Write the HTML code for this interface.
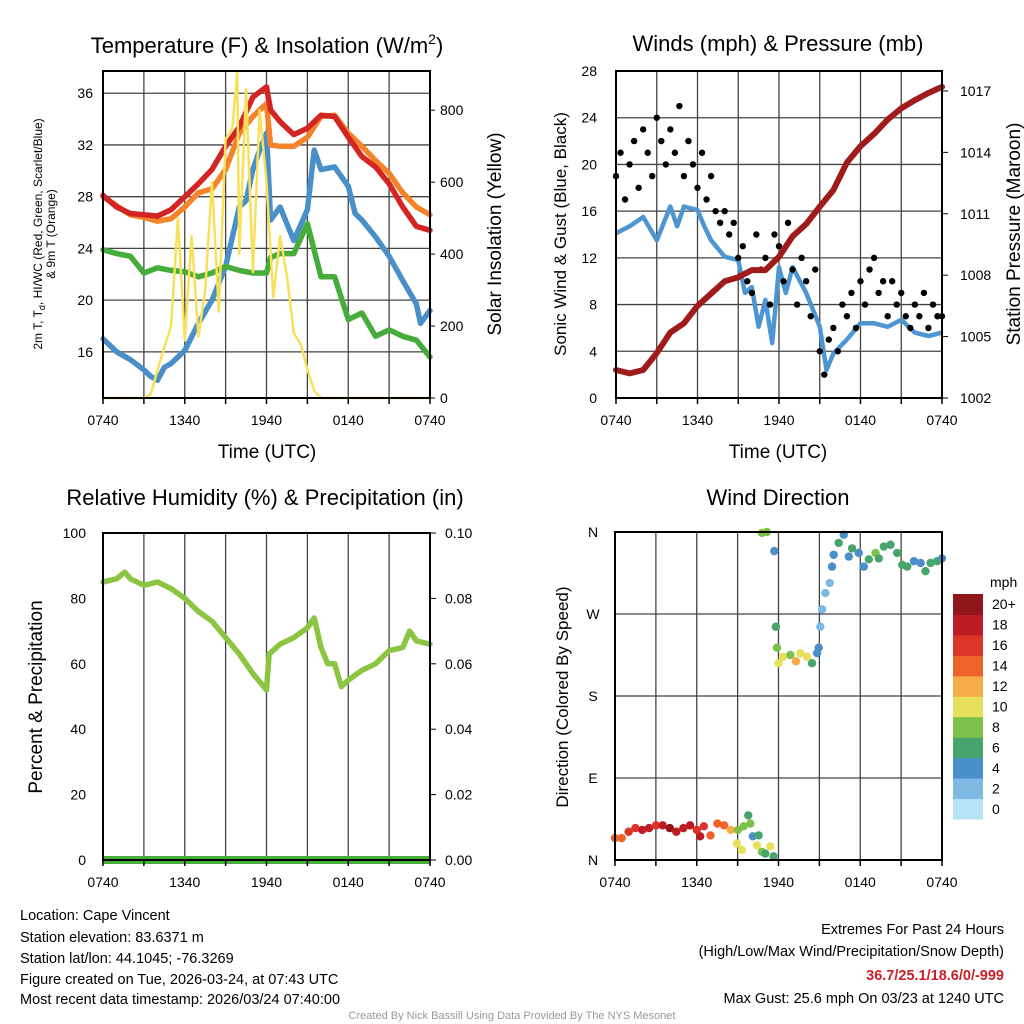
<!DOCTYPE html>
<html><head><meta charset="utf-8"><style>
html,body{margin:0;padding:0;background:#fff;}
svg{display:block;font-family:"Liberation Sans",sans-serif;}
</style></head><body>
<svg id="c" width="1024" height="1024" viewBox="0 0 1024 1024" xmlns="http://www.w3.org/2000/svg">
<rect width="1024" height="1024" fill="#fff"/>
<g id="g"></g>
<g font-size="14.5" fill="#000">
<text x="20" y="920">Location: Cape Vincent</text>
<text x="20" y="942">Station elevation: 83.6371 m</text>
<text x="20" y="963">Station lat/lon: 44.1045; -76.3269</text>
<text x="20" y="984">Figure created on Tue, 2026-03-24, at 07:43 UTC</text>
<text x="20" y="1004">Most recent data timestamp: 2026/03/24 07:40:00</text>
<text x="1004" y="934" text-anchor="end">Extremes For Past 24 Hours</text>
<text x="1004" y="956" text-anchor="end">(High/Low/Max Wind/Precipitation/Snow Depth)</text>
<text x="1004" y="980" text-anchor="end" font-weight="bold" fill="#c8202a">36.7/25.1/18.6/0/-999</text>
<text x="1004" y="1003" text-anchor="end">Max Gust: 25.6 mph On 03/23 at 1240 UTC</text>
<text x="512" y="1019" text-anchor="middle" font-size="11" fill="#999">Created By Nick Bassill Using Data Provided By The NYS Mesonet</text>
</g>
</svg>
<script>
// ---- data ----
const xTickLabels = ["0740","1340","1940","0140","0740"];
const hours = [0,1,2,3,4,5,6,7,8,9,10,11,12,12.3,13,14,15,16,17,18,19,20,21,22,23,24];
const tempRed = [28.1,27.2,26.7,26.6,26.5,27,28,29,30.1,31.9,33.4,35.7,36.5,34.7,33.8,32.8,33.3,34.3,34.2,32.6,31.1,30.3,29,27.2,25.7,25.4];
const tempOrange = [28,27.3,26.6,26.4,26.1,26.3,27.2,28.3,28.6,30.1,32.9,34.2,35.2,32,31.9,31.9,32.6,34.2,34.3,32.9,31.9,30.8,29.8,28.3,27.2,26.6];
const tempGreen = [23.9,23.6,23.4,22.1,22.5,22.3,22.2,21.8,22.1,22.6,22.3,22.1,22.1,23.3,23.6,23.6,25.9,21.8,21.8,18.5,19,17.2,17.7,17.2,16.9,15.6];
const blueHours = [0,1,2,3,3.5,4,4.5,5,6,7,8,9,10,10.5,11,11.5,12,12.3,13,14,15,15.5,16,17,18,18.5,19,20,21,22,23,23.3,24];
const tempBlue = [17,16,15.4,14.6,14.1,13.8,14.8,15.1,16.1,18.2,20,22.6,27.2,27.7,30.1,31.6,32.9,26.2,27.2,24.6,27,31.6,30.1,30.3,28.8,26.7,26.2,24.9,23.4,21.5,19.7,18.2,19.2];
const solarHours = [0,0.5,1,1.5,2,2.5,3,3.5,4,4.5,5,5.5,6,6.5,7,7.5,8,8.5,9,9.5,9.85,10,10.5,11,11.5,12,12.5,13,13.5,14,14.5,15,15.5,16,17,18,19,20,21,22,23,24];
const solar = [0,0,0,0,0,0,0,10,78,140,200,500,160,450,170,300,600,240,720,750,905,400,858,350,800,600,280,450,340,180,150,80,20,0,0,0,0,0,0,0,0,0];
const tempTicks = [16,20,24,28,32,36];
const solarTicks = [0,200,400,600,800];

const windHours = [0,1,2,3,4,4.5,5,6,6.5,7,8,9,9.5,10,10.5,11,11.5,12,12.5,13,14,15,15.5,16,17,18,19,20,21,22,23,24];
const windSpeed = [14.1,14.7,15.5,13.5,16.4,14.7,16.4,16.1,14.7,13.5,12.1,11.8,9,9.5,6.1,8.4,4.7,11.2,9,11.2,9,6.1,2.4,3.8,5,6.4,6.4,6.1,6.7,5.6,5.3,5.6];
const gusts = [19,21,17,20,22,18,23,21,19,24,22,20,23,21,25,19,22,20,18,21,17,19,16,15,16,14,15,12,13,10,9,14,11,12,8,14,13,10,15,11,8,12,10,7,11,4,2,5,6,4,8,7,9,6,10,8,11,12,9,10,7,10,8,9,7,6,8,7,9,6,8,7,7];
const presHours = [0,1,2,3,4,5,6,7,8,9,10,11,12,13,14,15,16,17,18,19,20,21,22,23,24];
const pressure = [1003.37,1003.2,1003.37,1004.2,1005.2,1005.65,1006.5,1007.1,1007.7,1007.9,1008.25,1008.25,1008.9,1009.9,1010.5,1011.35,1012.15,1013.5,1014.3,1014.9,1015.6,1016.15,1016.55,1016.9,1017.2];
const windTicks = [0,4,8,12,16,20,24,28];
const presTicks = [1002,1005,1008,1011,1014,1017];

const rhHours = [0,1,1.6,2,3,4,5,6,7,8,9,10,11,12,12.2,13,14,15,15.5,16,16.5,17,17.5,18,19,20,21,22,22.5,23,24];
const rh = [85,86,88,86,84,85,83,80,76,73,68,63,57,52,63,66,68,71,74,65,60,60,53,55,58,60,64,65,70,67,66];
const rhTicks = [0,20,40,60,80,100];
const precipTicks = ["0.00","0.02","0.04","0.06","0.08","0.10"];

const dirHours = [0,0.49,1,1.5,2,2.5,3.01,3.5,4.02,4.5,5.02,5.51,6,6.25,6.52,7.01,7.52,8.01,8.5,8.95,9.02,9.31,9.44,9.78,9.93,10.12,10.42,10.54,10.78,11.03,11.4,11.64,10.78,11.15,11.69,11.81,11.89,12,12.33,12.87,13.28,13.6,14.09,14.46,14.83,14.95,15.07,15.2,15.44,15.76,15.93,16.05,16.42,16.79,17.16,17.4,17.89,18.26,18.63,19.12,19.36,19.73,20.22,20.71,21.08,21.45,21.94,22.43,22.79,23.16,23.65,24];
const dirDeg = [24,24,31,35,33,35,38,38,35,31,35,38,33,26,37,27,40,38,33,18,33,11,37,49,40,26,16,27,9,7,15,4,359,360,339,256,233,216,223,225,218,227,223,216,227,233,256,275,293,304,322,335,348,357,333,342,337,322,330,337,331,344,346,337,324,322,328,326,317,326,328,331];
const dirSpeed = [14,14,15,16,17,17,16,17,19,18,17,17,16,17,15,14,13,13,12,10,8,9,7,6,8,4,9,6,8,6,10,5,8,8,4,6,8,10,10,7,12,10,10,6,4,4,2,2,2,2,4,4,6,4,4,6,4,4,6,8,6,6,6,6,6,6,4,4,6,6,6,4];
const dirTickLabels = ["N","E","S","W","N"];
const cbLabels = ["0","2","4","6","8","10","12","14","16","18","20+"];
const cbColors = ["#b5e2f7","#7db9e3","#4a8fc8","#47a56c","#7cc149","#e6e05a","#f6ac46","#ef6229","#dd342a","#bd1c25","#911619"];

// ---- helpers ----
const NS="http://www.w3.org/2000/svg";
const G=document.getElementById('g');
function el(tag,attrs,parent){const e=document.createElementNS(NS,tag);for(const k in attrs)e.setAttribute(k,attrs[k]);(parent||G).appendChild(e);return e;}
function txt(x,y,s,size,anchor,parent,rot){const t=el('text',{x:x,y:y,'font-size':size,'text-anchor':anchor||'middle',fill:'#000'},parent);if(rot)t.setAttribute('transform','rotate(-90 '+x+' '+y+')');t.textContent=s;return t;}
function path(xs,ys,fx,fy){let d='';for(let i=0;i<xs.length;i++){d+=(i?'L':'M')+fx(xs[i]).toFixed(1)+','+fy(ys[i]).toFixed(1);}return d;}

function panel(L,T,R,B,name){
  const g=el('g',{});
  
  
  const fx=h=>L+(R-L)*h/24;
  return {g,fx,L,T,R,B};
}
function frame(p,hLines){
  const {g,fx,L,T,R,B}=p;
  for(let i=1;i<8;i++){const l=el('line',{x1:fx(i*3),x2:fx(i*3),y1:T,y2:B,stroke:'#444','stroke-width':1.3},g);
    
    }
  hLines.forEach(y=>{const l=el('line',{x1:L,x2:R,y1:y,y2:y,stroke:'#444','stroke-width':1.3},g);
    
    });
}
function border(p){
  const r=el('rect',{x:p.L,y:p.T,width:p.R-p.L,height:p.B-p.T,fill:'none',stroke:'#000','stroke-width':2},p.g);
  
  
  for(let i=0;i<=8;i++){const l=el('line',{x1:p.fx(i*3),x2:p.fx(i*3),y1:p.B,y2:p.B+6,stroke:'#000','stroke-width':1.5},p.g);
    
    }
  xTickLabels.forEach((s,i)=>{const t=txt(p.fx(i*6),p.B+27,s,14,'middle',p.g);
    
    });
}

// ===== Panel 1: temperature =====
{
const p=panel(103,71,430,398,'temperature-panel');
const fy=v=>p.B-(v-12.43)*(p.B-p.T)/(37.72-12.43);
const fs=v=>p.B-v*(p.B-p.T)/909;
frame(p,tempTicks.map(fy));
const series=[[blueHours,tempBlue,'#4a90c8','temp-blue-line'],[hours,tempGreen,'#46ac3c','temp-green-line'],[hours,tempOrange,'#f5832a','temp-orange-line'],[hours,tempRed,'#d42525','temp-red-line']];
series.forEach(s=>{const e=el('path',{d:path(s[0],s[1],p.fx,fy),fill:'none',stroke:s[2],'stroke-width':5.5,'stroke-linejoin':'round','stroke-linecap':'round'},p.g);
  
  });
const sl=el('path',{d:path(solarHours,solar,p.fx,fs),fill:'none',stroke:'#f8e15a','stroke-width':2.5,'stroke-linejoin':'round'},p.g);


border(p);
tempTicks.forEach(v=>{const t=txt(p.L-10,fy(v)+5,String(v),14,'end',p.g);
  
  });
solarTicks.forEach(v=>{const t=txt(p.R+10,fs(v)+5,String(v),14,'start',p.g);
  
  
  const l=el('line',{x1:p.R,x2:p.R+5,y1:fs(v),y2:fs(v),stroke:'#000'},p.g);
  
  });
const tt=el('text',{x:267,y:53,'font-size':22,'text-anchor':'middle'},p.g);


tt.innerHTML='Temperature (F) &amp; Insolation (W/m<tspan dy="-9" font-size="14">2</tspan><tspan dy="9">)</tspan>';
const y1=el('text',{x:42,y:234,'font-size':12,'text-anchor':'middle',transform:'rotate(-90 42 234)'},p.g);


y1.innerHTML='2m T, T<tspan dy="3" font-size="9">d</tspan><tspan dy="-3">, HI/WC (Red, Green, Scarlet/Blue)</tspan>';
const y2=txt(55,234,'& 9m T (Orange)',12,'middle',p.g,true);


const y3=txt(501,234,'Solar Insolation (Yellow)',19,'middle',p.g,true);


const xt=txt(267,458,'Time (UTC)',19,'middle',p.g);


}

// ===== Panel 2: winds =====
{
const p=panel(616,71,942,398,'winds-panel');
const fy=v=>p.B-v*(p.B-p.T)/28;
const fp=v=>p.B-(v-1002)*20.47;
frame(p,windTicks.slice(1,7).map(fy));
const w=el('path',{d:path(windHours,windSpeed,p.fx,fy),fill:'none',stroke:'#4d96d2','stroke-width':4.5,'stroke-linejoin':'round'},p.g);


gusts.forEach((v,i)=>{const c=el('circle',{cx:p.fx(i/3),cy:fy(v),r:3.2,fill:'#000'},p.g);
  
  });
const pr=el('path',{d:path(presHours,pressure,p.fx,fp),fill:'none',stroke:'#a01c1c','stroke-width':6,'stroke-linejoin':'round','stroke-linecap':'round'},p.g);


border(p);
windTicks.forEach(v=>{const t=txt(p.L-19,fy(v)+5,String(v),14,'end',p.g);
  
  });
presTicks.forEach(v=>{const t=txt(p.R+18,fp(v)+5,String(v),14,'start',p.g);
  
  
  const l=el('line',{x1:p.R,x2:p.R+6,y1:fp(v),y2:fp(v),stroke:'#000'},p.g);
  
  });
const t1=txt(778,51,'Winds (mph) & Pressure (mb)',22,'middle',p.g);


const t2=txt(566,234,'Sonic Wind & Gust (Blue, Black)',17,'middle',p.g,true);


const t3=txt(1020,234,'Station Pressure (Maroon)',19,'middle',p.g,true);


const xt=txt(778,458,'Time (UTC)',19,'middle',p.g);


}

// ===== Panel 3: RH =====
{
const p=panel(103,533,430,860,'humidity-panel');
const fy=v=>p.B-v*(p.B-p.T)/100;
frame(p,[]);
const z=el('line',{x1:p.L,x2:p.R,y1:p.B,y2:p.B,stroke:'#46ac3c','stroke-width':8},p.g);


const r=el('path',{d:path(rhHours,rh,p.fx,fy),fill:'none',stroke:'#8cc541','stroke-width':5.5,'stroke-linejoin':'round','stroke-linecap':'round'},p.g);


border(p);
rhTicks.forEach(v=>{const t=txt(p.L-17,fy(v)+5,String(v),14,'end',p.g);
  
  });
precipTicks.forEach((s,i)=>{const y=fy(i*20);const t=txt(p.R+15,y+5,s,14,'start',p.g);
  
  
  const l=el('line',{x1:p.R,x2:p.R+6,y1:y,y2:y,stroke:'#000'},p.g);
  
  });
const t1=txt(265,505,'Relative Humidity (%) & Precipitation (in)',22,'middle',p.g);


const t2=txt(42,697,'Percent & Precipitation',19,'middle',p.g,true);


}

// ===== Panel 4: wind direction =====
{
const p=panel(615,532,942,860,'wind-direction-panel');
const fy=v=>p.B-v*(p.B-p.T)/360;
frame(p,[90,180,270].map(fy));
const col=s=>cbColors[Math.max(0,Math.min(10,Math.round(s/2)))];
dirDeg.forEach((d,i)=>{const c=el('circle',{cx:p.fx(dirHours[i]),cy:fy(d),r:4.2,fill:col(dirSpeed[i])},p.g);
  
  });
border(p);
dirTickLabels.forEach((s,i)=>{const t=txt(p.L-22,fy(i*90)+5,s,14,'middle',p.g);
  
  });
const t1=txt(778,505,'Wind Direction',22,'middle',p.g);


const t2=txt(568,697,'Direction (Colored By Speed)',17,'middle',p.g,true);


const lg=el('g',{},p.g);


const cbT=594,cbH=(819-594)/11;
cbColors.forEach((c,i)=>{const y=cbT+(10-i)*cbH;
  const r=el('rect',{x:953,y:y,width:30,height:cbH+0.5,fill:c},lg);
  
  
  const t=txt(992,y+cbH/2+5,cbLabels[i],14,'start',lg);
  
  });
const u=txt(990,587,'mph',14,'start',lg);


}
</script>
</body></html>
